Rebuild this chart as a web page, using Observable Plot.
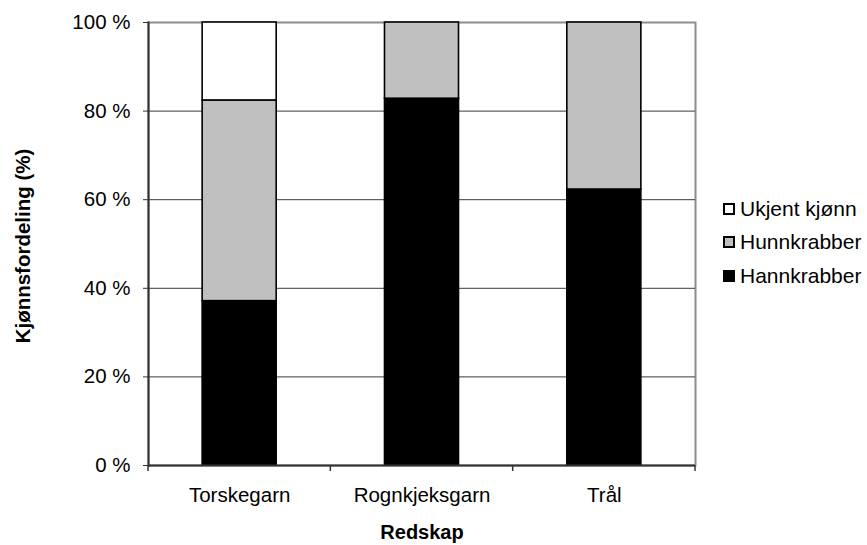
<!DOCTYPE html>
<html><head><meta charset="utf-8">
<script src="https://cdn.jsdelivr.net/npm/d3@7"></script>
<script src="https://cdn.jsdelivr.net/npm/@observablehq/plot@0.6"></script>
<style>
body{margin:0;background:#fff;font-family:Arial,"Liberation Sans",sans-serif;}
#wrap{position:relative;width:867px;height:545px;}
#wrap svg{position:absolute;left:0;top:0;}
#legend{position:absolute;left:723px;top:192px;}
.row{display:flex;align-items:center;height:33.5px;font-size:21px;color:#000;white-space:nowrap;}
.sw{width:12px;height:12px;box-sizing:border-box;border:2px solid #000;margin-right:5px;flex:none;}
</style></head><body><div id="wrap"><div id="legend"></div></div>
<script>
const categories = ["Torskegarn", "Rognkjeksgarn", "Trål"];
const series = ["Hannkrabber", "Hunnkrabber", "Ukjent kjønn"];
const hann = [37.1, 82.8, 62.3];
const hunn = [45.3, 17.2, 37.7];
const ukjent = [17.6, 0, 0];
const yTicks = [0, 20, 40, 60, 80, 100];
const gridTicks = [20, 40, 60, 80];
const colors = ["#000000", "#c0c0c0", "#ffffff"];
const legendOrder = ["Ukjent kjønn", "Hunnkrabber", "Hannkrabber"];

const seriesValues = [hann, hunn, ukjent];
const table = [];
categories.forEach((c, i) => {
  series.forEach((s, j) => {
    if (seriesValues[j][i] > 0) table.push({cat: c, series: s, value: seriesValues[j][i]});
  });
});

const plot = Plot.plot({
  width: 867, height: 545,
  marginLeft: 148, marginRight: 172, marginTop: 22, marginBottom: 80,
  style: {fontFamily: "Arial, 'Liberation Sans', sans-serif", fontSize: "20.5px", color: "#000", background: "#fff"},
  x: {domain: categories, paddingInner: 0.594, paddingOuter: 0.297, round: false, label: null},
  y: {domain: [0, 100], label: null},
  color: {domain: series, range: colors},
  marks: [
    Plot.frame({stroke: "#8c8c8c", strokeWidth: 2}),
    Plot.ruleY(gridTicks, {stroke: "#3a3a3a", strokeWidth: 1}),
    Plot.barY(table, Plot.stackY({x: "cat", y: "value", fill: "series", stroke: "#000", strokeWidth: 1.6})),
    Plot.ruleY([0], {stroke: "#333", strokeWidth: 2}),
    Plot.frame({anchor: "left", stroke: "#333", strokeWidth: 2}),
    Plot.axisY({ticks: yTicks, tickSize: 5, tickPadding: 13, fontSize: 20.5, stroke: "#333", tickFormat: d => d + " %", label: null}),
    Plot.axisX({tickSize: 0, tickPadding: 22, fontSize: 20.5, label: null}),
    Plot.text(["Redskap"], {frameAnchor: "bottom", textAnchor: "middle", lineAnchor: "middle", dy: 67, fontWeight: "bold", fontSize: 20}),
    Plot.text(["Kjønnsfordeling (%)"], {frameAnchor: "left", textAnchor: "middle", lineAnchor: "middle", rotate: -90, dx: -125, dy: 2, fontWeight: "bold", fontSize: 20.5})
  ]
});

// category boundary ticks on x axis, computed from Plot's x scale
const xs = plot.scale("x");
const ys = plot.scale("y");
const half = xs.step * xs.paddingInner / 2;
const bounds = categories.map(c => xs.apply(c) - half);
bounds.push(xs.apply(categories[categories.length - 1]) + xs.bandwidth + half);
const y0 = ys.apply(0);
d3.select(plot).append("g")
  .selectAll("line").data(bounds).join("line")
  .attr("x1", d => d).attr("x2", d => d)
  .attr("y1", y0).attr("y2", y0 + 6)
  .attr("stroke", "#333").attr("stroke-width", 1.5);

const wrap = document.getElementById("wrap");
wrap.insertBefore(plot, wrap.firstChild);

const legend = d3.select("#legend");
legendOrder.forEach(s => {
  const row = legend.append("div").attr("class", "row");
  row.append("div").attr("class", "sw").style("background", colors[series.indexOf(s)]);
  row.append("span").text(s);
});
</script></body></html>
